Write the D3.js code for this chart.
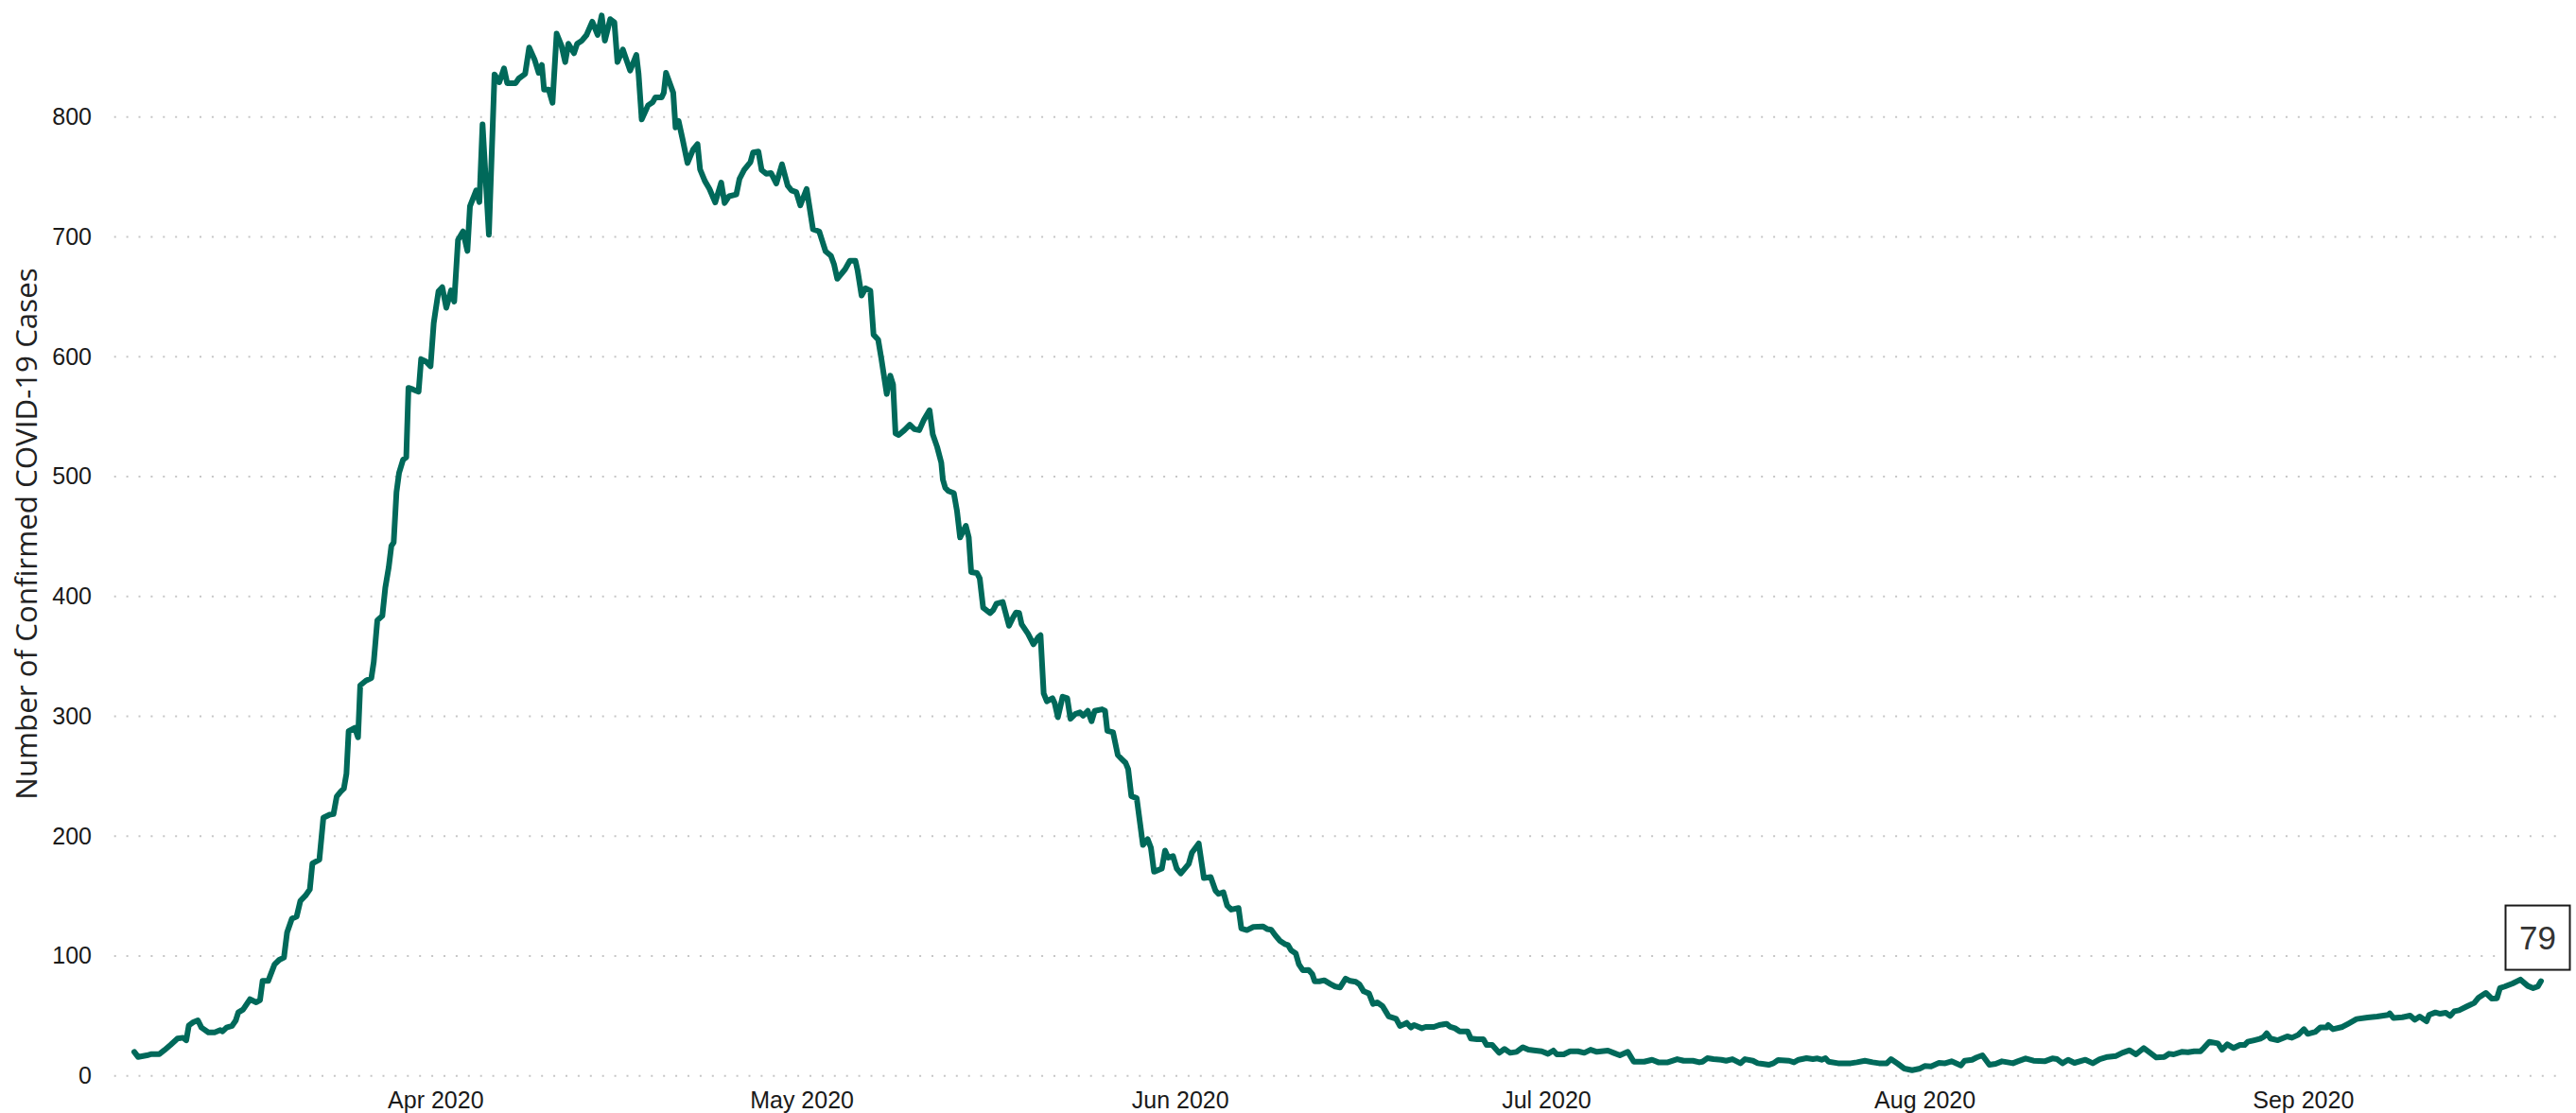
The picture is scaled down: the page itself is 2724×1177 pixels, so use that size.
<!DOCTYPE html>
<html>
<head>
<meta charset="utf-8">
<script src="https://cdn.jsdelivr.net/npm/d3@7"></script>
<style>
  body { margin: 0; background: #fff; }
  .chart text { font-family: "Liberation Sans", Arial, sans-serif; }
</style>
</head>
<body>
<svg class="chart"></svg>
<script>
// time of each reading, in days since 2020-03-01 (UTC)
const dayOffsets = [
  6.34,6.65,7.37,7.76,8.40,8.79,9.31,9.88,10.34,10.60,10.81,11.17,11.55,11.84,12.41,12.92,13.39,13.57,13.90,14.34,
  14.65,14.86,15.25,15.82,16.33,16.64,16.85,17.31,17.83,18.22,18.60,18.86,19.25,19.64,19.95,20.36,20.72,20.93,21.50,21.83,
  22.35,22.66,22.92,23.25,23.51,23.72,23.90,24.41,24.67,24.85,25.32,25.76,25.96,26.25,26.66,26.90,27.18,27.40,27.59,27.82,
  28.03,28.36,28.62,28.80,29.19,29.63,29.84,30.22,30.61,30.87,31.00,31.26,31.57,31.90,32.29,32.55,32.86,33.27,33.63,33.84,
  34.35,34.61,34.87,35.39,35.85,36.24,36.63,36.89,37.58,37.84,38.36,38.69,39.13,39.47,39.73,39.91,40.29,40.60,40.94,41.33,
  41.64,41.90,42.36,42.62,43.01,43.39,43.86,44.30,44.63,44.89,45.33,45.67,45.92,46.36,46.96,47.47,47.65,47.91,48.43,48.82,
  49.02,49.54,49.72,49.90,50.49,50.68,50.93,51.27,51.66,52.12,52.48,52.69,53.08,53.46,53.93,54.42,54.70,55.07,55.66,55.92,
  56.30,56.82,57.03,57.47,57.73,58.11,58.50,58.94,59.40,59.87,60.18,60.57,60.90,61.42,61.94,62.45,62.97,63.41,63.67,63.93,
  64.57,64.96,65.42,65.60,65.92,66.25,66.64,66.90,67.28,67.54,67.98,68.27,68.50,68.70,68.96,69.43,69.87,70.25,70.64,71.03,
  71.49,71.75,72.11,72.45,72.58,72.78,73.04,73.48,73.74,73.99,74.46,74.70,74.90,75.37,75.60,75.88,76.45,76.71,76.97,77.48,
  77.69,78.00,78.34,78.57,78.83,79.03,79.55,80.00,80.40,80.58,80.84,81.10,81.56,81.74,82.00,82.39,82.77,83.03,83.42,83.81,
  84.07,84.45,84.76,85.02,85.62,85.87,86.05,86.52,86.91,87.24,87.55,87.76,88.02,88.46,88.71,88.97,89.36,89.62,89.88,90.52,
  90.78,91.04,91.43,91.74,92.07,92.72,92.98,93.54,93.96,94.52,94.91,95.17,95.56,95.87,96.20,96.80,97.03,97.49,98.01,98.79,
  99.17,99.48,99.82,100.20,100.59,100.85,101.11,101.49,101.75,102.06,102.53,102.84,103.04,103.43,103.82,104.33,104.72,105.11,105.57,105.94,
  106.40,106.71,107.05,107.49,107.82,108.16,108.60,108.85,109.11,109.71,110.02,110.33,110.58,110.92,111.18,111.82,112.13,112.80,113.24,113.84,
  114.15,114.53,114.92,115.57,115.83,116.34,116.86,117.12,117.58,118.15,118.59,119.05,119.57,120.09,120.55,120.99,121.64,122.15,122.59,122.88,
  123.44,123.96,124.61,125.12,125.64,126.16,127.06,127.52,128.04,128.69,129.18,130.03,130.68,131.19,131.97,132.74,133.26,134.03,134.55,134.81,
  135.20,135.71,136.36,136.75,137.26,137.91,138.29,138.94,139.33,139.71,140.23,140.62,141.00,141.91,142.30,142.68,143.33,143.85,144.23,144.57,
  144.88,145.14,145.91,146.95,147.46,148.11,148.75,149.27,149.91,150.25,150.82,151.34,151.98,152.63,153.01,153.53,154.18,154.69,155.21,155.98,
  156.29,156.89,157.27,157.74,158.31,158.82,159.34,159.80,160.24,160.63,161.28,161.92,162.83,163.47,163.86,164.30,164.76,165.28,166.18,166.78,
  167.35,167.99,168.69,169.20,169.80,170.32,170.96,171.48,171.99,172.64,173.03,173.41,174.06,174.58,175.09,175.61,175.87,176.33,177.03,177.37,
  177.80,178.32,178.84,179.22,179.48,180.00,180.52,180.77,181.03,181.34,181.94,182.71,183.10,183.61,184.08,184.39,185.03,185.42,185.94,186.07,
  186.45,187.23,187.75,188.39,189.30,190.07,190.98,191.11,191.42,192.14,192.78,193.17,193.56,194.13,194.33,194.85,195.24,195.70,196.06,196.40,
  196.79,197.43,198.03,198.39,198.98,199.45,199.89,200.14,200.53,201.18,201.82,202.42,202.86,203.24,203.50
];
const cases = [
  20.0,15.8,17.1,18.2,18.2,21.3,25.8,31.1,31.8,29.7,42.1,44.7,46.3,40.3,36.3,36.3,38.2,37.1,40.3,41.6,
  46.1,52.9,55.3,63.9,61.3,63.2,79.2,79.2,92.9,96.8,98.7,119.7,131.1,132.9,146.1,150.3,155.5,177.1,180.3,215.3,
  217.9,218.4,232.9,237.1,239.7,252.1,287.6,290.3,282.4,325.8,329.7,331.8,345.5,380.1,383.7,407,424,442,445,487,
  503,514,516,574,572.6,570.8,597.9,596,592,628,637,654.5,657.9,640.8,655.3,646,697.4,704.5,688.2,725.5,
  738.7,729,793.9,701.8,835.5,829,840.5,828.2,828.2,832.1,836,857.9,847.9,836.8,843.4,822.9,822.9,811.8,869.5,859.7,
  845.8,861.1,853.2,861.1,863.7,868.4,879.5,868.4,884.7,863.7,881.6,878.9,845.8,856.3,838.7,851.8,836.1,797.9,809.7,812.4,
  816.3,816.3,820.3,836.8,820.3,791.3,796.6,780.8,761.6,772.9,777.4,756.3,746.6,740,728.7,745.3,728.2,733.9,735.3,748.4,
  755.8,762.4,770.3,771.1,755.8,752.6,753.2,744.5,760.5,742.6,738.7,737.4,726.3,740,706.3,704.5,687.9,684.2,676.8,665,
  672.9,680,680,671.6,651,657.1,655,618.4,614.2,598.4,568.9,584.2,576.8,536,534.7,538.7,543.2,539.5,538.7,547.4,
  555.3,535.3,524.7,511.6,497.4,490.5,487.9,486.1,471.1,449.2,458.9,449.2,420.3,419.5,415,390.5,386.1,388.7,393.9,395.3,
  387.4,375.5,382.6,386.6,386.1,376.8,368.9,360,366,367.6,318.9,312.4,315,311,299.2,316.3,315,297.9,301.8,303.2,
  300.5,304.5,295.8,304.5,305.8,304.5,287.9,286.6,267.6,264.2,261.1,255.8,233.4,231.6,212.4,192.6,197.4,190.5,170.3,172.9,
  187.9,182.1,183.4,172.9,168.9,176.8,186.1,193.9,165,165.8,154.5,151.8,153.2,142.1,138.7,140,122.9,121.6,124.2,124.7,
  122.4,121.8,117.1,112.6,110,109.2,104.7,102.1,92.9,88.2,88.4,85,78.9,78.9,79.7,76.6,74.5,73.7,81.1,79.2,
  78.4,76.3,70.5,68.7,60,61.3,58.2,53.9,49.5,47.6,41.6,42.9,44.2,40.3,42.4,39.7,40.8,40.8,42.4,43.4,
  40.8,39.7,37.1,37.1,31.1,30.5,30.5,25.8,25.8,19.2,22.4,19.2,20,23.9,21.8,21.3,20.5,18.4,21.1,17.9,
  17.9,20.5,20.5,19.2,21.8,20,21.1,19.2,17.1,20,11.8,11.8,13.4,11.3,11.3,13.9,12.6,12.6,11.3,11.8,
  14.7,13.9,13.4,12.6,13.9,10.5,13.9,12.6,10.5,10,9.2,10.5,13.2,12.6,11.3,13.4,14.7,13.9,14.5,13.4,
  14.7,11.8,10.5,10.5,11.3,12.6,11.3,10.5,10.5,13.9,10,6.1,4.7,6.1,8.2,7.9,10.8,10.5,12.1,8.7,
  12.6,13.4,15.3,17.1,9.2,10,12.1,11.3,10.5,12.1,14.5,12.6,12.1,14.5,13.9,10.5,13.4,10.8,13.4,10.5,
  13.9,15.8,16.6,19.2,21.3,17.9,23.2,19.2,15.3,15.8,18.4,17.9,20,19.7,20.5,20.5,23.2,28.4,27.1,21.8,
  26.3,23.2,25.8,25.8,28.4,29.7,31.1,32.4,35.5,31.1,29.7,32.9,31.8,34.2,38.9,35,36.8,40.3,40.3,42.4,
  38.9,40.8,43.7,47.4,48.7,49.5,50.8,52.1,48.2,48.9,50.3,46.8,49.5,45.5,50.8,52.9,51.8,52.6,50,53.9,
  54.7,57.9,60.8,65.3,69.2,64.5,64.7,73.2,74.5,77.1,80.3,75,73.2,74.5,79
];
const yTicks = [0, 100, 200, 300, 400, 500, 600, 700, 800];
const yMax = 890;
const xTickFormat = '%b %Y';
const yTitle = 'Number of Confirmed COVID-19 Cases';

let W = 2724, H = 1177,
    margin = {top: 9.6, right: 37, bottom: 39.3, left: 142},
    width = W - margin.left - margin.right,
    height = H - margin.top - margin.bottom,
    lineColor = '#00695a';

let start = Date.UTC(2020, 2, 1);
let data = dayOffsets.map((d, i) => ({date: new Date(start + d * 864e5), value: cases[i]}));

let svg = d3.select('.chart')
    .attr('width', W)
    .attr('height', H)
    .attr('viewBox', '0 0 ' + W + ' ' + H);

let x = d3.scaleUtc()
    .domain(d3.extent(data, d => d.date))
    .range([0, width]),
    y = d3.scaleLinear()
    .domain([0, yMax])
    .range([height, 0]);

let focus = svg.append('g')
    .attr('transform', 'translate(' + margin.left + ',' + margin.top + ')');

// dotted horizontal grid
focus.append('g')
    .attr('class', 'grid')
  .selectAll('line')
    .data(yTicks)
    .enter()
    .append('line')
    .attr('x1', -21.3)
    .attr('x2', width + 16)
    .attr('y1', d => y(d))
    .attr('y2', d => y(d))
    .attr('stroke', '#c6c6c6')
    .attr('stroke-width', 2)
    .attr('stroke-dasharray', '2,10.9');

let yAxis = d3.axisLeft(y).tickValues(yTicks).tickSize(0).tickPadding(45);
focus.append('g')
    .attr('class', 'axis axis--y')
    .call(yAxis)
    .call(g => {
      g.select('.domain').remove();
      g.selectAll('.tick text')
        .attr('font-size', 25)
        .attr('fill', '#1a1a1a')
        .attr('font-family', '"Liberation Sans", Arial, sans-serif');
    });

let xAxis = d3.axisBottom(x)
    .ticks(d3.utcMonth.every(1))
    .tickFormat(d3.utcFormat(xTickFormat))
    .tickSize(0)
    .tickPadding(16.5);
focus.append('g')
    .attr('class', 'axis axis--x')
    .attr('transform', 'translate(0,' + height + ')')
    .call(xAxis)
    .call(g => {
      g.select('.domain').remove();
      g.selectAll('.tick text')
        .attr('font-size', 25)
        .attr('fill', '#1a1a1a')
        .attr('font-family', '"Liberation Sans", Arial, sans-serif');
    });

svg.append('text')
    .attr('transform', 'translate(39,564.5) rotate(-90)')
    .attr('text-anchor', 'middle')
    .attr('font-size', 31.3)
    .attr('fill', '#222')
    .style('font-family', '"Open Sans", "Noto Sans", sans-serif')
    .text(yTitle);

let line = d3.line()
    .x(d => x(d.date))
    .y(d => y(d.value));

focus.append('path')
    .datum(data)
    .attr('fill', 'none')
    .attr('stroke', lineColor)
    .attr('stroke-width', 6)
    .attr('stroke-linejoin', 'round')
    .attr('stroke-linecap', 'round')
    .attr('d', line);

// value label over the last reading
let last = data[data.length - 1],
    lx = x(last.date),
    ly = y(last.value),
    box = 68;
let label = focus.append('g')
    .attr('transform', 'translate(' + (lx - 3.5) + ',' + (ly - 12 - box / 2) + ')');
label.append('rect')
    .attr('x', -box / 2)
    .attr('y', -box / 2)
    .attr('width', box)
    .attr('height', box)
    .attr('fill', '#fff')
    .attr('stroke', '#1a1a1a')
    .attr('stroke-width', 2);
label.append('text')
    .attr('text-anchor', 'middle')
    .attr('dy', '0.36em')
    .attr('font-size', 35)
    .attr('fill', '#333')
    .text(Math.round(last.value));
</script>
</body>
</html>
